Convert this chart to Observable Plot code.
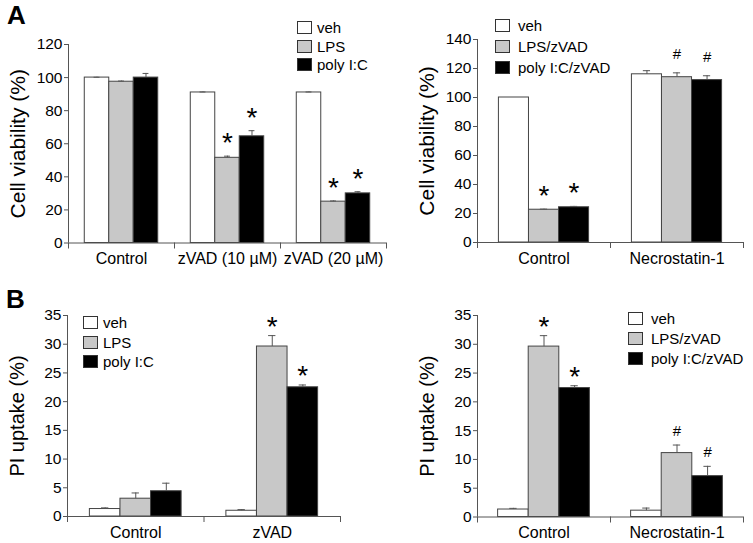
<!DOCTYPE html>
<html>
<head>
<meta charset="utf-8">
<script src="https://cdn.jsdelivr.net/npm/d3@7"></script>
<script src="https://cdn.jsdelivr.net/npm/@observablehq/plot@0.6"></script>
<style>
  body { margin: 0; background: #fff; font-family: "Liberation Sans", Arial, sans-serif; }
  #wrap { position: relative; width: 753px; height: 543px; overflow: hidden; background: #fff; }
  .panel { position: absolute; }
  .letter { position: absolute; font-weight: bold; font-size: 26px; line-height: 1; color: #000; }
  .legend { position: absolute; font-size: 15px; color: #000; }
  .legend .row { display: flex; align-items: center; }
  .legend .sw { box-sizing: border-box; width: 15px; height: 13px; border: 1.5px solid #333; }
</style>
</head>
<body>
<div id="wrap"></div>
<script>
// ---------- data ----------
const fills = ["#ffffff", "#c8c8c8", "#000000"];
const legendA = ["veh", "LPS", "poly I:C"];
const legendB = ["veh", "LPS/zVAD", "poly I:C/zVAD"];

// Panel A (left): cell viability
const catA1 = ["Control", "zVAD (10 µM)", "zVAD (20 µM)"];
const vehA1 = [100, 91, 91];
const lpsA1 = [97.5, 51.5, 25];
const polyA1 = [100, 64.5, 30];
const vehErrA1 = [0.2, 0.3, 0.3];
const lpsErrA1 = [0.4, 1.0, 0.4];
const polyErrA1 = [2.5, 3.4, 1.0];
const lpsSigA1 = ["", "*", "*"];
const polySigA1 = ["", "*", "*"];
const ticksA1 = [0, 20, 40, 60, 80, 100, 120];

// Panel A (right): cell viability
const catA2 = ["Control", "Necrostatin-1"];
const vehA2 = [100, 116];
const lpsA2 = [22.6, 114];
const polyA2 = [24.3, 112];
const vehErrA2 = [0, 2.5];
const lpsErrA2 = [0.4, 3.0];
const polyErrA2 = [0.6, 3.0];
const lpsSigA2 = ["*", "#"];
const polySigA2 = ["*", "#"];
const ticksA2 = [0, 20, 40, 60, 80, 100, 120, 140];

// Panel B (left): PI uptake
const catB1 = ["Control", "zVAD"];
const vehB1 = [1.3, 1.0];
const lpsB1 = [3.1, 29.6];
const polyB1 = [4.4, 22.5];
const vehErrB1 = [0.2, 0.2];
const lpsErrB1 = [1.0, 1.9];
const polyErrB1 = [1.4, 0.4];
const lpsSigB1 = ["", "*"];
const polySigB1 = ["", "*"];
const ticksB1 = [0, 5, 10, 15, 20, 25, 30, 35];

// Panel B (right): PI uptake
const catB2 = ["Control", "Necrostatin-1"];
const vehB2 = [1.3, 1.1];
const lpsB2 = [29.6, 11.1];
const polyB2 = [22.4, 7.1];
const vehErrB2 = [0.2, 0.45];
const lpsErrB2 = [1.9, 1.4];
const polyErrB2 = [0.4, 1.7];
const lpsSigB2 = ["*", "#"];
const polySigB2 = ["*", "#"];
const ticksB2 = [0, 5, 10, 15, 20, 25, 30, 35];

// ---------- drawing ----------
const FONT = '"Liberation Sans", Arial, sans-serif';
const wrap = document.getElementById("wrap");

function rowsOf(series, errs, sigs) {
  const out = [];
  series.forEach((vals, j) => vals.forEach((v, i) => out.push({i, j, v, e: errs[j][i], s: sigs[j][i]})));
  return out;
}

function panel(cfg) {
  const {cats, series, errs, sigs, ticks, label, labelSize, left, top, width, height,
         ml, mr, mt, mb, bw, starDy, hashDy} = cfg;
  const rows = rowsOf(series, errs, sigs);
  const n = cats.length;
  const cx = d => d.i + (d.j - 1) * bw;
  const tp = d => d.v + d.e;
  const bounds = d3.range(n + 1).map(k => k - 0.5);
  const withErr = rows.filter(d => d.e > 0);
  const plot = Plot.plot({
    width, height,
    marginLeft: ml, marginRight: mr, marginTop: mt, marginBottom: mb,
    style: {fontFamily: FONT, background: "transparent", overflow: "visible", color: "#000"},
    x: {domain: [-0.5, n - 0.5]},
    y: {domain: [ticks[0], ticks[ticks.length - 1]]},
    color: {type: "identity"},
    marks: [
      Plot.rect(rows, {x1: d => cx(d) - bw / 2, x2: d => cx(d) + bw / 2, y1: 0, y2: "v",
        fill: d => fills[d.j], stroke: "#444", strokeWidth: 1}),
      Plot.ruleX(withErr, {x: cx, y1: "v", y2: tp, stroke: "#555"}),
      Plot.ruleY(withErr, {y: tp, x1: d => cx(d) - bw * 0.12, x2: d => cx(d) + bw * 0.12, stroke: "#555"}),
      Plot.text(rows.filter(d => d.s === "*"), {x: cx, y: tp, text: "s", dy: starDy, fontSize: 28, fill: "#000"}),
      Plot.text(rows.filter(d => d.s === "#"), {x: cx, y: tp, text: "s", dy: hashDy, fontSize: 15, fill: "#000"}),
      Plot.ruleY([ticks[0]], {stroke: "#555"}),
      Plot.ruleX([-0.5], {stroke: "#555"}),
      Plot.axisY({ticks, tickSize: 4, tickPadding: 2, fontSize: 15.5, stroke: "#555", fill: "#000", label: null}),
      Plot.axisY({ticks: [], tickSize: 0, label, labelAnchor: "center", labelOffset: 58,
        labelArrow: "none", fontSize: labelSize, fill: "#000"}),
      Plot.axisX({ticks: bounds, tickSize: 6, tickFormat: () => "", stroke: "#555", label: null}),
      Plot.axisX({ticks: d3.range(n), tickSize: 0, tickPadding: 10, tickFormat: i => cats[i],
        fontSize: 16, fill: "#000", label: null})
    ]
  });
  plot.classList.add("panel");
  plot.style.left = left + "px";
  plot.style.top = top + "px";
  wrap.appendChild(plot);
}

function legend(names, left, boxTop, rowH, gap) {
  const div = document.createElement("div");
  div.className = "legend";
  div.style.left = left + "px";
  div.style.top = (boxTop - (rowH - 13) / 2) + "px";
  names.forEach((name, j) => {
    const row = document.createElement("div");
    row.className = "row";
    row.style.height = rowH + "px";
    const sw = document.createElement("div");
    sw.className = "sw";
    sw.style.background = fills[j];
    sw.style.marginRight = gap + "px";
    const t = document.createElement("span");
    t.textContent = name;
    row.appendChild(sw); row.appendChild(t);
    div.appendChild(row);
  });
  wrap.appendChild(div);
}

function letter(txt, left, top) {
  const d = document.createElement("div");
  d.className = "letter";
  d.textContent = txt;
  d.style.left = left + "px";
  d.style.top = top + "px";
  wrap.appendChild(d);
}

panel({cats: catA1, series: [vehA1, lpsA1, polyA1], errs: [vehErrA1, lpsErrA1, polyErrA1],
  sigs: [["", "", ""], lpsSigA1, polySigA1], ticks: ticksA1, label: "Cell viability (%)", labelSize: 21,
  left: 0, top: 0, width: 392, height: 285, ml: 68, mr: 6, mt: 44, mb: 42.5, bw: 0.231, starDy: -13, hashDy: -18});
panel({cats: catA2, series: [vehA2, lpsA2, polyA2], errs: [vehErrA2, lpsErrA2, polyErrA2],
  sigs: [["", ""], lpsSigA2, polySigA2], ticks: ticksA2, label: "Cell viability (%)", labelSize: 21,
  left: 380, top: 0, width: 373, height: 285, ml: 97, mr: 10, mt: 39, mb: 43, bw: 0.226, starDy: -13, hashDy: -18.5});
panel({cats: catB1, series: [vehB1, lpsB1, polyB1], errs: [vehErrB1, lpsErrB1, polyErrB1],
  sigs: [["", ""], lpsSigB1, polySigB1], ticks: ticksB1, label: "PI uptake (%)", labelSize: 20,
  left: 0, top: 270, width: 360, height: 273, ml: 67, mr: 20, mt: 45, mb: 27, bw: 0.224, starDy: -9, hashDy: -14});
panel({cats: catB2, series: [vehB2, lpsB2, polyB2], errs: [vehErrB2, lpsErrB2, polyErrB2],
  sigs: [["", ""], lpsSigB2, polySigB2], ticks: ticksB2, label: "PI uptake (%)", labelSize: 20,
  left: 380, top: 270, width: 373, height: 273, ml: 97, mr: 10, mt: 45, mb: 26.5, bw: 0.23, starDy: -9, hashDy: -14});

legend(legendA, 297, 21, 18.5, 5);
legend(legendB, 495, 19, 21, 8);
legend(legendA, 83, 316, 19.5, 5);
legend(legendB, 628, 312, 20, 8);

letter("A", 7, 2);
letter("B", 6, 286);
</script>
</body>
</html>
